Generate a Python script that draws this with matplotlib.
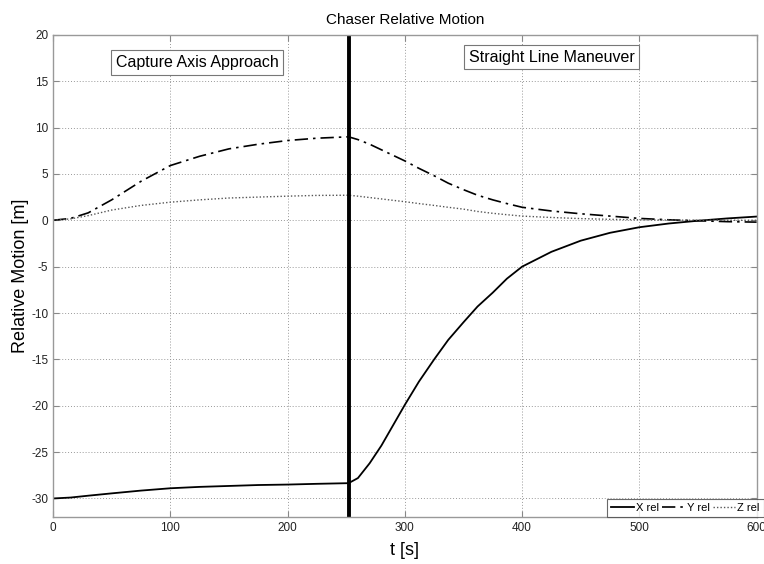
import matplotlib
matplotlib.use("Agg")
import matplotlib.pyplot as plt

plt.rcParams["font.family"] = ["Liberation Sans", "DejaVu Sans"]
plt.rcParams["axes.unicode_minus"] = False

# Time samples [s] and relative position components [m]
t = [0, 15, 30, 50, 75, 100, 125, 150, 175, 200, 225, 252, 260, 270, 280, 290,
     300, 312, 325, 337, 350, 362, 375, 387, 400, 425, 450, 475, 500, 525, 550,
     575, 600]
x_rel = [-30.0, -29.9, -29.7, -29.45, -29.15, -28.9, -28.75, -28.65, -28.55,
         -28.5, -28.42, -28.35, -27.8, -26.2, -24.3, -22.1, -19.9, -17.4, -15.0,
         -12.9, -11.0, -9.3, -7.8, -6.3, -5.0, -3.4, -2.2, -1.35, -0.75, -0.35,
         -0.05, 0.2, 0.4]
y_rel = [0.0, 0.2, 0.8, 2.2, 4.2, 5.9, 6.9, 7.7, 8.2, 8.6, 8.85, 9.0, 8.7, 8.2,
         7.6, 7.0, 6.4, 5.6, 4.8, 4.0, 3.3, 2.7, 2.2, 1.8, 1.4, 1.0, 0.7, 0.45,
         0.2, 0.05, -0.05, -0.15, -0.2]
z_rel = [0.0, 0.15, 0.5, 1.1, 1.6, 1.95, 2.2, 2.4, 2.5, 2.6, 2.68, 2.7, 2.6,
         2.45, 2.3, 2.15, 2.0, 1.8, 1.6, 1.4, 1.2, 0.95, 0.75, 0.6, 0.45, 0.3,
         0.18, 0.1, 0.05, 0.02, 0.0, 0.0, 0.0]

switch_time = 252
phase_labels = ["Capture Axis Approach", "Straight Line Maneuver"]
phase_label_pos = [(123, 17.0), (425, 17.6)]

fig = plt.figure(figsize=(7.64, 5.64), dpi=100)
ax = fig.add_axes([0.0694, 0.0833, 0.921, 0.855])

ax.plot(t, x_rel, color="black", lw=1.3, ls="-", label="X rel")
ax.plot(t, y_rel, color="black", lw=1.2, ls=(0, (8, 3, 1.5, 3)), label="Y rel")
ax.plot(t, z_rel, color="#555555", lw=1.0, ls=(0, (1, 1.5)), label="Z rel")
ax.axvline(switch_time, color="black", lw=2.8)

for txt, (tx, ty) in zip(phase_labels, phase_label_pos):
    ax.text(tx, ty, txt, ha="center", va="center", fontsize=11.5,
            bbox=dict(boxstyle="square,pad=0.3", facecolor="white",
                      edgecolor="#777777", lw=0.8))

ax.set_xlim(0, 600)
ax.set_ylim(-32, 20)
ax.set_xticks(range(0, 601, 100))
ax.set_yticks(range(-30, 21, 5))
ax.tick_params(direction="in", labelsize=8.5, length=4, color="#888888",
               top=True, right=True, labelcolor="#222222")
ax.grid(True, ls=(0, (1, 2)), color="#999999", lw=0.7)
for s in ax.spines.values():
    s.set_color("#999999")
    s.set_linewidth(1.0)

ax.set_title("Chaser Relative Motion", fontsize=11, pad=8)
ax.set_xlabel("t [s]", fontsize=13, labelpad=6)
ax.set_ylabel("Relative Motion [m]", fontsize=13)
ax.yaxis.set_label_coords(-0.034, 0.5)

leg = ax.legend(loc="lower left", bbox_to_anchor=(0.788, 0.0), ncol=3,
                fontsize=8, frameon=True, borderaxespad=0, handlelength=2.0,
                handletextpad=0.2, columnspacing=0.3, borderpad=0.35,
                fancybox=False)
leg.get_frame().set_edgecolor("#444444")
leg.get_frame().set_linewidth(0.8)

fig.savefig("out.png", dpi=100)
